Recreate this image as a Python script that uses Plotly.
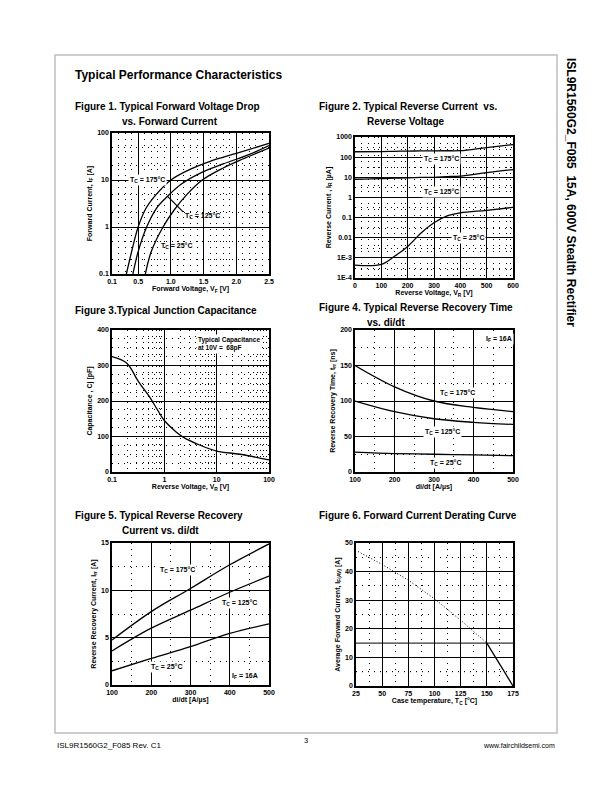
import math
import plotly.graph_objects as go

W, H = 612, 792
FONT = "Liberation Sans"

# ---------------- data ----------------
# Fig 1: forward voltage (V) vs forward current (A)
f1_v_175 = [0.32, 0.40, 0.50, 0.62, 0.78, 1.00, 1.30, 1.60, 2.00, 2.50]
f1_i_175 = [0.1, 0.3, 1.0, 2.5, 5.0, 10.0, 17.0, 25.0, 37.0, 60.0]
f1_v_125 = [0.42, 0.50, 0.63, 0.78, 0.95, 1.15, 1.45, 1.80, 2.20, 2.50]
f1_i_125 = [0.1, 0.3, 1.0, 2.5, 4.5, 8.0, 14.0, 22.0, 35.0, 54.0]
f1_v_25 = [0.61, 0.70, 0.88, 1.05, 1.25, 1.48, 1.80, 2.10, 2.50]
f1_i_25 = [0.1, 0.3, 1.0, 2.3, 5.0, 10.0, 18.0, 28.0, 48.0]

# Fig 2: reverse voltage (V) vs reverse current (uA)
f2_v = [0, 100, 150, 200, 250, 300, 350, 400, 500, 600]
f2_i_175 = [185, 190, 195, 200, 203, 205, 208, 210, 300, 420]
f2_i_125 = [8, 8.5, 9, 9.5, 9.8, 10, 10.8, 11.5, 17, 24]
f2_i_25 = [4.4e-4, 4.8e-4, 1.2e-3, 3.7e-3, 0.0166, 0.055, 0.12, 0.17, 0.23, 0.32]

# Fig 3: reverse voltage (V) vs capacitance (pF)
f3_v = [0.1, 0.19, 0.316, 0.53, 0.72, 1.0, 1.68, 2.25, 4.7, 10, 28, 100]
f3_c = [325, 307, 256, 210, 178, 145, 113, 99, 76, 59, 50, 34]

# Fig 4: di/dt (A/us) vs trr (ns)
f4_didt = [100, 200, 300, 400, 500]
f4_trr_175 = [150, 120, 100, 91, 85]
f4_trr_125 = [100, 85, 75, 70, 67]
f4_trr_25 = [28, 26, 25, 24, 23]

# Fig 5: di/dt (A/us) vs Irr (A)
f5_didt = [100, 200, 300, 400, 500]
f5_irr_175 = [4.75, 7.75, 10.2, 12.7, 14.9]
f5_irr_125 = [3.6, 6.0, 7.9, 9.8, 11.5]
f5_irr_25 = [1.5, 2.8, 4.05, 5.45, 6.45]

# Fig 6: case temperature (C) vs average forward current (A)
f6_t_dot = [27, 50, 75, 100, 125, 150]
f6_i_dot = [47, 42.5, 37, 30.5, 23, 15]
f6_t_solid = [150, 175]
f6_i_solid = [15, 0]

# tick labels
f1_xticks = [0.1, 0.5, 1.0, 1.5, 2.0, 2.5]
f1_xtext = ["0.1", "0.5", "1.0", "1.5", "2.0", "2.5"]
f1_yticks = [0.1, 1, 10, 100]
f1_ytext = ["0.1", "1", "10", "100"]
f2_yticks = [1e-4, 1e-3, 0.01, 0.1, 1, 10, 100, 1000]
f2_ytext = ["1E-4", "1E-3", "0.01", "0.1", "1", "10", "100", "1000"]
f3_xticks = [0.1, 1, 10, 100]
f3_xtext = ["0.1", "1", "10", "100"]

# ---------------- layout helpers ----------------
fig = go.Figure()
layout = {}
annotations = []
shapes = []

tickfont = dict(family=FONT, size=7, color="black", weight="bold")
titlefont = dict(family=FONT, size=7, color="black", weight="bold")


def dom(px0, px1, py0, py1):
    return [px0 / W, px1 / W], [1 - py1 / H, 1 - py0 / H]


def add_axes(n, box, xcfg, ycfg, xtitle, ytitle):
    xd, yd = dom(*box)
    xname = "xaxis" if n == 1 else f"xaxis{n}"
    yname = "yaxis" if n == 1 else f"yaxis{n}"
    base = dict(showline=True, mirror=True, linecolor="black", linewidth=1.5,
                showgrid=True, gridcolor="black", gridwidth=1, zeroline=False,
                ticks="", tickfont=tickfont, ticklen=0, fixedrange=True,
                automargin=False)
    x = dict(base, domain=xd, anchor=f"y{'' if n == 1 else n}",
             title=dict(text=xtitle, font=titlefont, standoff=2))
    x.update(xcfg)
    y = dict(base, domain=yd, anchor=f"x{'' if n == 1 else n}",
             title=dict(text=ytitle, font=titlefont, standoff=4))
    y.update(ycfg)
    layout[xname] = x
    layout[yname] = y


def minor(vals):
    return dict(tickvals=vals, showgrid=True, gridcolor="black", griddash="1px,5px",
                gridwidth=1, ticks="")


def line(n, x, y, dash="solid", width=1.3):
    fig.add_trace(go.Scatter(x=x, y=y, mode="lines", line_shape="spline",
                             line=dict(color="black", width=width, dash=dash),
                             xaxis="x" if n == 1 else f"x{n}",
                             yaxis="y" if n == 1 else f"y{n}",
                             showlegend=False, hoverinfo="skip"))


def label(n, x, y, text, **kw):
    d = dict(x=x, y=y, xref="x" if n == 1 else f"x{n}", yref="y" if n == 1 else f"y{n}",
             text=text, showarrow=False, bgcolor="white",
             font=dict(family=FONT, size=7, color="black", weight="bold"))
    d.update(kw)
    annotations.append(d)


def ptext(x, y, text, size=10, bold=True, anchor="left", **kw):
    d = dict(x=x / W, y=1 - y / H, xref="paper", yref="paper", text=text,
             showarrow=False, xanchor=anchor, yanchor="middle",
             font=dict(family=FONT, size=size, color="black",
                       weight="bold" if bold else "normal"))
    d.update(kw)
    annotations.append(d)


# ---------------- Figure 1 ----------------
add_axes(1, (112, 269, 133, 274),
         dict(range=[0.1, 2.5], tickvals=f1_xticks, ticktext=f1_xtext,
              minor=minor([0.2, 0.3, 0.4, 0.6, 0.7, 0.8, 0.9, 1.1, 1.2, 1.3, 1.4,
                           1.6, 1.7, 1.8, 1.9, 2.1, 2.2, 2.3, 2.4])),
         dict(type="log", range=[-1, 2], tickvals=f1_yticks, ticktext=f1_ytext,
              minor=minor([0.2, 0.5, 2, 5, 20, 50])),
         "Forward Voltage, V<sub>F</sub> [V]", "Forward Current, I<sub>F</sub> [A]")
line(1, f1_v_175, f1_i_175)
line(1, f1_v_125, f1_i_125)
line(1, f1_v_25, f1_i_25)
label(1, 0.64, math.log10(10), "T<sub>C</sub> = 175°C")
label(1, 1.49, math.log10(1.7), "T<sub>C</sub> = 125°C", bgcolor="rgba(0,0,0,0)")
label(1, 1.08, math.log10(0.4), "T<sub>C</sub> = 25°C", bgcolor="rgba(0,0,0,0)")
annotations.append(dict(x=0.95, y=math.log10(4.5), xref="x", yref="y", ax=17, ay=17,
                        showarrow=True, arrowhead=0, arrowwidth=1.2, arrowcolor="black",
                        text=""))

# ---------------- Figure 2 ----------------
add_axes(2, (355, 513, 137, 278),
         dict(range=[0, 600], tickvals=[0, 100, 200, 300, 400, 500, 600],
              minor=minor([v + d for v in range(0, 600, 100) for d in (25, 50, 75, 90)])),
         dict(type="log", range=[-4, 3], tickvals=f2_yticks, ticktext=f2_ytext,
              minor=minor([3 * t for t in f2_yticks[:-1]])),
         "Reverse Voltage, V<sub>R</sub> [V]", "Reverse Current , I<sub>R</sub> [µA]")
line(2, f2_v, f2_i_175)
line(2, f2_v, f2_i_125)
line(2, f2_v, f2_i_25)
label(2, 330, math.log10(80), "T<sub>C</sub> = 175°C")
label(2, 330, math.log10(1.8), "T<sub>C</sub> = 125°C")
label(2, 430, math.log10(0.0095), "T<sub>C</sub> = 25°C")

# ---------------- Figure 3 ----------------
add_axes(3, (112, 269, 330, 472),
         dict(type="log", range=[-1, 2], tickvals=f3_xticks, ticktext=f3_xtext,
              minor=minor([m * 10 ** e for e in (-1, 0, 1) for m in range(2, 10)])),
         dict(range=[0, 400], tickvals=[0, 100, 200, 300, 400],
              minor=minor([25, 50, 75, 125, 150, 175, 225, 250, 275, 325, 350, 375])),
         "Reverse Voltage, V<sub>R</sub> [V]", "Capacitance , Cj [pF]")
line(3, f3_v, f3_c)
label(3, math.log10(17), 360, "Typical Capacitance<br>at 10V =  68pF", align="left",
      font=dict(family=FONT, size=6.5, color="black", weight="bold"))

# ---------------- Figure 4 ----------------
add_axes(4, (355, 513, 330, 472),
         dict(range=[100, 500], tickvals=[100, 200, 300, 400, 500],
              minor=minor([150, 250, 350, 450])),
         dict(range=[0, 200], tickvals=[0, 50, 100, 150, 200],
              minor=minor([25, 75, 125, 175])),
         "di/dt [A/µs]", "Reverse Recovery Time, t<sub>rr</sub> [ns]")
line(4, f4_didt, f4_trr_175)
line(4, f4_didt, f4_trr_125)
line(4, f4_didt, f4_trr_25)
label(4, 465, 188, "I<sub>F</sub> = 16A")
label(4, 360, 111, "T<sub>C</sub> = 175°C")
label(4, 322, 57, "T<sub>C</sub> = 125°C")
label(4, 330, 12, "T<sub>C</sub> = 25°C")

# ---------------- Figure 5 ----------------
add_axes(5, (112, 269, 543, 685),
         dict(range=[100, 500], tickvals=[100, 200, 300, 400, 500],
              minor=minor([150, 250, 350, 450])),
         dict(range=[0, 15], tickvals=[0, 5, 10, 15],
              minor=minor([2.5, 7.5, 12.5])),
         "di/dt [A/µs]", "Reverse Recovery Current, I<sub>rr</sub> [A]")
line(5, f5_didt, f5_irr_175)
line(5, f5_didt, f5_irr_125)
line(5, f5_didt, f5_irr_25)
label(5, 268, 12.1, "T<sub>C</sub> = 175°C")
label(5, 425, 8.7, "T<sub>C</sub> = 125°C")
label(5, 240, 1.9, "T<sub>C</sub> = 25°C")
label(5, 440, 1.0, "I<sub>F</sub> = 16A")

# ---------------- Figure 6 ----------------
add_axes(6, (356, 513, 543, 686),
         dict(range=[25, 175], tickvals=[25, 50, 75, 100, 125, 150, 175],
              minor=minor([37.5, 62.5, 87.5, 112.5, 137.5, 162.5])),
         dict(range=[0, 50], tickvals=[0, 10, 20, 30, 40, 50],
              minor=minor([5, 25, 35, 45])),
         "Case temperature, T<sub>C</sub> [°C]",
         "Average Forward Current, I<sub>F(AV)</sub> [A]")
shapes.append(dict(type="line", xref="x6", yref="y6", x0=25, x1=175, y0=15, y1=15,
                   line=dict(color="black", width=1)))
shapes.append(dict(type="line", xref="x6", yref="y6", x0=25, x1=175, y0=5, y1=5,
                   line=dict(color="black", width=1, dash="1px,5px")))
fig.add_trace(go.Scatter(x=f6_t_dot, y=f6_i_dot, mode="lines", xaxis="x6", yaxis="y6",
                         line=dict(color="black", width=1, dash="1px,2px"),
                         showlegend=False, hoverinfo="skip"))
fig.add_trace(go.Scatter(x=f6_t_solid, y=f6_i_solid, mode="lines", xaxis="x6", yaxis="y6",
                         line=dict(color="black", width=1.3),
                         showlegend=False, hoverinfo="skip"))

# ---------------- page text ----------------
ptext(73, 75, "Typical Performance Characteristics", size=12)
ptext(73, 106, "Figure 1. Typical Forward Voltage Drop", size=10)
ptext(120, 121, "vs. Forward Current", size=10)
ptext(317, 106, "Figure 2. Typical Reverse Current  vs.", size=10)
ptext(365, 121, "Reverse Voltage", size=10)
ptext(73, 310, "Figure 3.Typical Junction Capacitance", size=10)
ptext(317, 308, "Figure 4. Typical Reverse Recovery Time", size=10)
ptext(365, 322, "vs. di/dt", size=10)
ptext(73, 515, "Figure 5. Typical Reverse Recovery", size=10)
ptext(120, 530, "Current vs. di/dt", size=10)
ptext(317, 515, "Figure 6. Forward Current Derating Curve", size=10)

ptext(55, 745, "ISL9R1560G2_F085 Rev. C1", size=8, bold=False)
ptext(306, 740, "3", size=7.5, bold=False, anchor="center")
ptext(557, 745, "www.fairchildsemi.com", size=7, bold=False, anchor="right")
annotations.append(dict(x=571 / W, y=1 - 192 / H, xref="paper", yref="paper",
                        text="ISL9R1560G2_F085 \u00a015A, 600V Stealth Rectifier",
                        showarrow=False, textangle=90, xanchor="center", yanchor="middle",
                        font=dict(family=FONT, size=12, color="black", weight="bold")))

# page frame
shapes.append(dict(type="rect", xref="paper", yref="paper",
                   x0=55 / W, x1=557 / W, y0=1 - 733 / H, y1=1 - 55 / H,
                   line=dict(color="#bdbdbd", width=1.5)))

fig.update_layout(width=W, height=H, margin=dict(l=0, r=0, t=0, b=0, pad=0),
                  paper_bgcolor="white", plot_bgcolor="white", showlegend=False,
                  annotations=annotations, shapes=shapes, **layout)
fig.write_html("out.html", config={"displayModeBar": False},
               post_script="document.body.style.margin='0';")
